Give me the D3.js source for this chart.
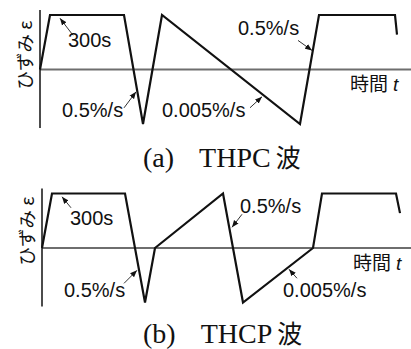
<!DOCTYPE html>
<html>
<head>
<meta charset="utf-8">
<script src="https://cdn.jsdelivr.net/npm/d3@7"></script>
<style>
  html, body { margin: 0; padding: 0; background: #fff; }
  svg { display: block; }
  .sans { font-family: "Liberation Sans", Arial, sans-serif; }
  .jp { font-family: "Noto Sans CJK JP", sans-serif; }
  .serif { font-family: "Liberation Serif", "Times New Roman", serif; }
</style>
</head>
<body>
<svg id="chart" width="411" height="349"></svg>
<script>
// Schematic strain histories (time in arbitrary units, strain normalised to the amplitude)
const thpcTime   = [0, 1, 8.4, 10.3, 12.2, 26.0, 27.9, 35.5, 35.7];
const thpcStrain = [0, 1, 1, -1, 1, -1, 1, 1, 0.64];

const thcpTime   = [0, 1, 8.3, 10.3, 11.3, 18.1, 20.1, 27.1, 28.0, 35.4, 35.8];
const thcpStrain = [0, 1, 1, -1, 0, 1, -1, 0, 1, 1, 0.64];

// Annotation texts and the point (time, strain) each arrow points at
const thpcNotes = ["300s", "0.5%/s", "0.005%/s", "0.5%/s"];
const thpcNoteAt = [[2.0, 0.94], [9.6, -0.41], [22.2, -0.5], [27.2, 0.35]];
const thcpNotes = ["300s", "0.5%/s", "0.5%/s", "0.005%/s"];
const thcpNoteAt = [[2.0, 0.94], [9.5, -0.41], [19.0, 0.38], [24.7, -0.39]];

const axisLabelY = "ひずみ ε";
const axisLabelX = "時間";
const axisLabelXVar = "t";
const captions = [["(a)", "THPC", "波"], ["(b)", "THCP", "波"]];

const svg = d3.select("#chart");

svg.append("defs").append("marker")
  .attr("id", "arrowhead")
  .attr("viewBox", "0 0 10 10")
  .attr("refX", 10).attr("refY", 5)
  .attr("markerWidth", 7).attr("markerHeight", 7)
  .attr("markerUnits", "userSpaceOnUse")
  .attr("orient", "auto")
  .append("path").attr("d", "M0,1 L10,5 L0,9 Z").attr("fill", "#111");

function panel(cfg) {
  const g = svg.append("g");
  const x = d3.scaleLinear().domain([0, 10]).range([cfg.x0, cfg.x0 + 100]);
  const y = d3.scaleLinear().domain([-1, 1]).range([cfg.zeroY + 54.5, cfg.zeroY - 54.5]);

  // time axis through zero strain
  g.append("line")
    .attr("x1", x(0)).attr("x2", 411)
    .attr("y1", y(0)).attr("y2", y(0))
    .attr("stroke", "#6e6e6e").attr("stroke-width", 2);

  // strain axis
  g.append("line")
    .attr("x1", x(0)).attr("x2", x(0))
    .attr("y1", y(1) - 5).attr("y2", y(-1) + 4)
    .attr("stroke", "#111").attr("stroke-width", 1.5);

  const pts = cfg.time.map((t, i) => [t, cfg.strain[i]]);
  g.append("path")
    .datum(pts)
    .attr("d", d3.line().x(d => x(d[0])).y(d => y(d[1])))
    .attr("fill", "none")
    .attr("stroke", "#111")
    .attr("stroke-width", 2.2)
    .attr("stroke-linejoin", "miter");

  // annotations
  cfg.notes.forEach((txt, i) => {
    const [t, s] = cfg.noteAt[i];
    const tip = [x(t), y(s)];
    const lay = cfg.layout[i];
    g.append("line")
      .attr("x1", tip[0] + lay.tail[0]).attr("y1", tip[1] + lay.tail[1])
      .attr("x2", tip[0]).attr("y2", tip[1])
      .attr("stroke", "#333").attr("stroke-width", 1)
      .attr("marker-end", "url(#arrowhead)");
    g.append("text")
      .attr("class", "sans")
      .attr("x", lay.text[0]).attr("y", lay.text[1])
      .attr("font-size", 20)
      .attr("fill", "#111")
      .text(txt);
  });

  // time axis label
  const xl = g.append("text")
    .attr("x", cfg.xLabel[0]).attr("y", cfg.xLabel[1])
    .attr("font-size", 19).attr("fill", "#111");
  xl.append("tspan").attr("class", "jp").text(axisLabelX);
  xl.append("tspan").attr("class", "sans").attr("font-style", "italic").attr("dx", 5).text(axisLabelXVar);

  // strain axis label
  g.append("text")
    .attr("class", "jp")
    .attr("transform", `translate(${cfg.yLabel[0]},${cfg.yLabel[1]}) rotate(-90)`)
    .attr("text-anchor", "middle")
    .attr("font-size", 18.5)
    .attr("fill", "#111")
    .text(axisLabelY);

  // caption
  const cap = g.append("text")
    .attr("class", "serif")
    .attr("x", cfg.caption[0]).attr("y", cfg.caption[1])
    .attr("font-size", 28).attr("fill", "#111");
  cap.append("tspan").text(cfg.captionText[0]);
  cap.append("tspan").attr("dx", 25).text(cfg.captionText[1]);
  cap.append("tspan").attr("class", "jp").attr("dx", 5).attr("font-size", 25).text(cfg.captionText[2]);
}

panel({
  x0: 40, zeroY: 69.5,
  time: thpcTime, strain: thpcStrain,
  notes: thpcNotes, noteAt: thpcNoteAt,
  layout: [
    { tail: [13, 17], text: [68, 47] },
    { tail: [-12, 16], text: [62, 117] },
    { tail: [-12, 11], text: [162, 117] },
    { tail: [-14, -10], text: [238, 35] }
  ],
  xLabel: [350, 91], yLabel: [32, 55],
  caption: [143, 167], captionText: captions[0]
});

panel({
  x0: 42, zeroY: 248,
  time: thcpTime, strain: thcpStrain,
  notes: thcpNotes, noteAt: thcpNoteAt,
  layout: [
    { tail: [9, 11], text: [70, 225] },
    { tail: [-13, 13], text: [64, 297] },
    { tail: [10, -13], text: [240, 213] },
    { tail: [8, 9], text: [283, 297] }
  ],
  xLabel: [353, 270], yLabel: [34, 231],
  caption: [143, 343], captionText: captions[1]
});
</script>
</body>
</html>
